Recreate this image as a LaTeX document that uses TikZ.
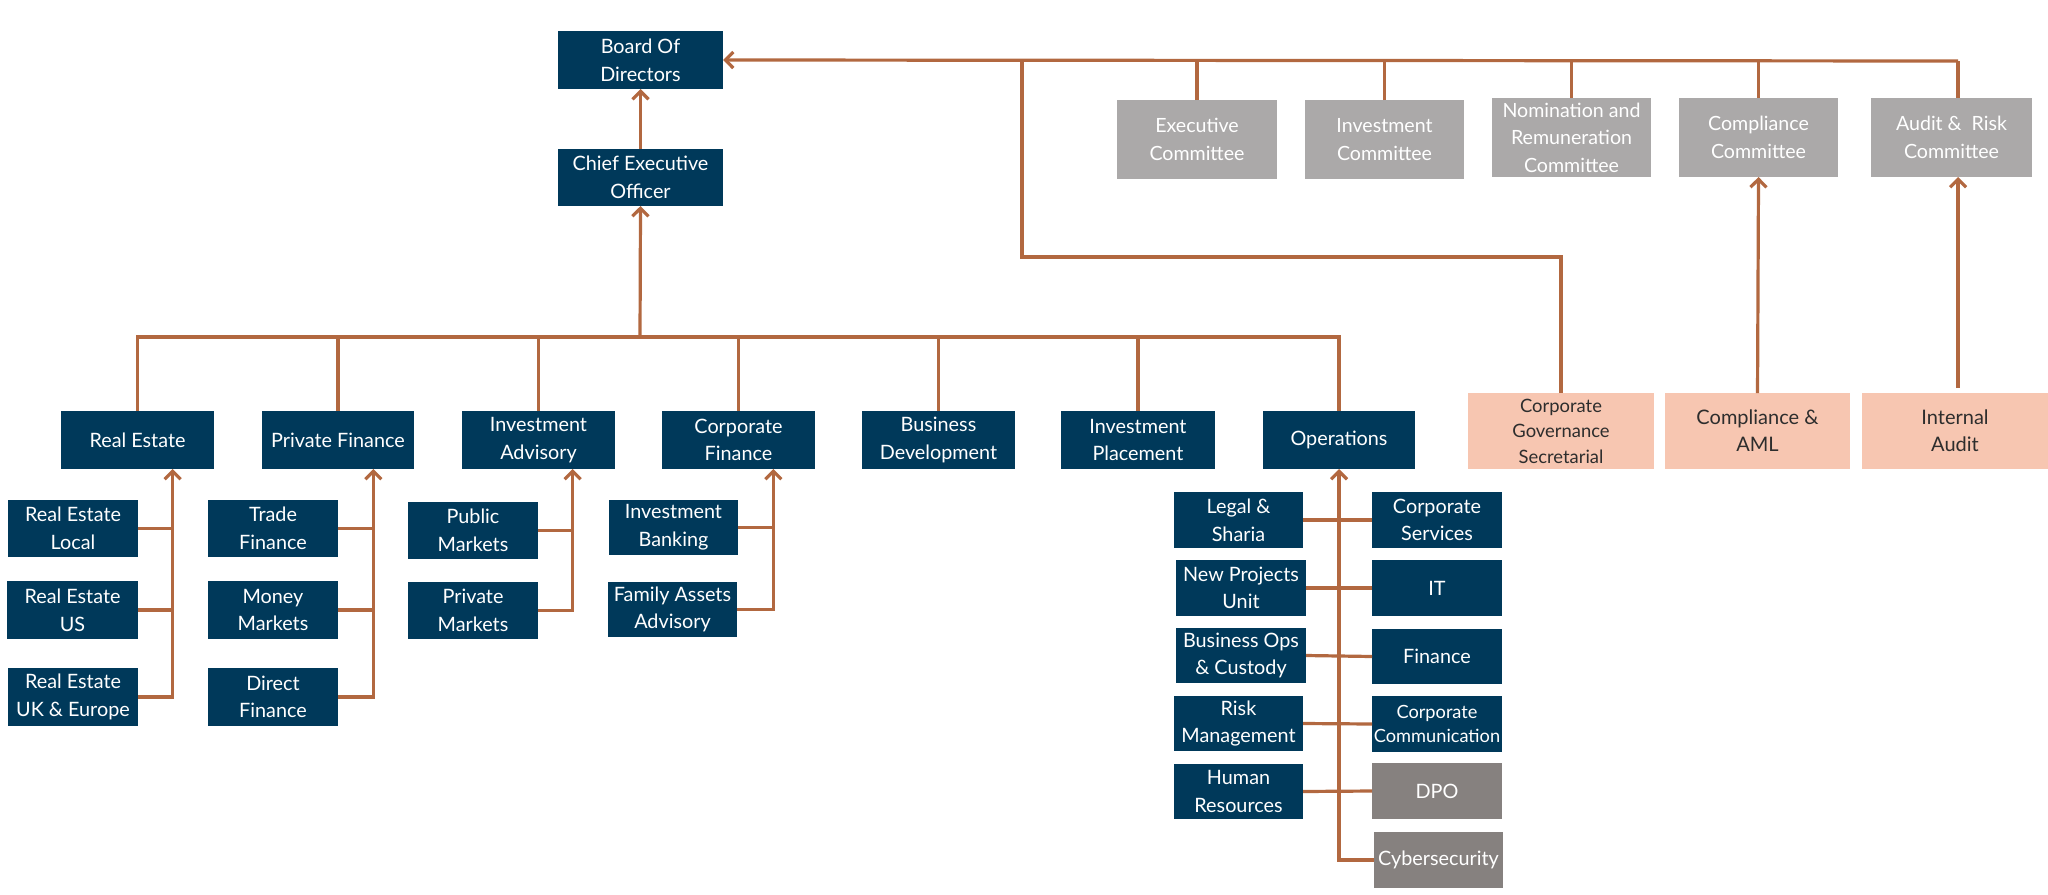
\documentclass[tikz,border=0pt]{standalone}
\usepackage{fontspec}
\setmainfont{Lato}
\usetikzlibrary{arrows.meta}
\definecolor{navy}{RGB}{0,57,90}
\definecolor{rust}{RGB}{178,104,64}
\definecolor{peach}{RGB}{247,198,177}
\definecolor{lgrey}{RGB}{171,169,169}
\definecolor{dgrey}{RGB}{134,129,127}
\definecolor{ptext}{RGB}{45,45,45}
\newcommand\bx[7]{\node[#6, minimum width={((#4)-(#2))*0.5pt}, minimum height={((#5)-(#3))*0.5pt}] (#1) at ({((#2)+(#4))/2},{((#3)+(#5))/2}) {#7};}
\tikzset{
  boxbase/.style={inner sep=0pt, outer sep=0pt, align=center},
  nb/.style={boxbase, fill=navy, text=white, font=\fontsize{9.9}{13.8}\selectfont},
  nbs/.style={nb, font=\fontsize{9.1}{12.3}\selectfont},
  cmt/.style={boxbase, fill=lgrey, text=white, font=\fontsize{9.8}{13.8}\selectfont},
  pk/.style={boxbase, fill=peach, text=ptext, font=\fontsize{10}{13.6}\selectfont},
  pks/.style={pk, font=\fontsize{9.2}{12.8}\selectfont},
  dg/.style={boxbase, fill=dgrey, text=white, font=\fontsize{9.9}{13.8}\selectfont},
  ln/.style={draw=rust, line width=1.6pt},
  arr/.style={ln, -{Straight Barb[length=4pt,width=8pt]}}
}
\begin{document}
\begin{tikzpicture}[x=0.5pt,y=-0.5pt]
\useasboundingbox (0,0) rectangle (2048,894);
% top
\bx{board}{558}{31}{723}{89}{nb}{Board Of\\Directors}
\bx{ceo}{558}{149}{723}{206}{nb}{Chief Executive\\Officer}
% committees
\bx{exec}{1117}{100}{1277}{179}{cmt}{Executive\\Committee}
\bx{invc}{1305}{100}{1464}{179}{cmt}{Investment\\Committee}
\bx{nom}{1492}{98}{1651}{177}{cmt}{Nomination and\\Remuneration\\Committee}
\bx{compc}{1679}{98}{1838}{177}{cmt}{Compliance\\Committee}
\bx{audc}{1871}{98}{2032}{177}{cmt}{Audit \&~ Risk\\Committee}
% peach
\bx{cg}{1468}{393}{1654}{469}{pks}{Corporate\\Governance\\Secretarial}
\bx{aml}{1665}{393}{1850}{469}{pk}{Compliance \&\\AML}
\bx{ia}{1862}{393}{2048}{469}{pk}{Internal\\Audit}
% level 2
\bx{re}{61}{411}{214}{469}{nb}{Real Estate}
\bx{pf}{262}{411}{414}{469}{nb}{Private Finance}
\bx{iadv}{462}{411}{615}{469}{nb}{Investment\\Advisory}
\bx{cf}{662}{411}{815}{469}{nb}{Corporate\\Finance}
\bx{bd}{862}{411}{1015}{469}{nb}{Business\\Development}
\bx{ip}{1061}{411}{1215}{469}{nb}{Investment\\Placement}
\bx{ops}{1263}{411}{1415}{469}{nb}{Operations}
% RE subs
\bx{rel}{8}{500}{138}{557}{nb}{Real Estate\\Local}
\bx{reus}{7}{581}{138}{639}{nb}{Real Estate\\US}
\bx{reuk}{8}{668}{138}{726}{nb}{Real Estate\\UK \& Europe}
% PF subs
\bx{tf}{208}{500}{338}{557}{nb}{Trade\\Finance}
\bx{mm}{208}{581}{338}{639}{nb}{Money\\Markets}
\bx{df}{208}{668}{338}{726}{nb}{Direct\\Finance}
% IA subs
\bx{pub}{408}{502}{538}{559}{nb}{Public\\Markets}
\bx{pri}{408}{582}{538}{639}{nb}{Private\\Markets}
% CF subs
\bx{ib}{609}{500}{738}{555}{nb}{Investment\\Banking}
\bx{fa}{608}{582}{737}{637}{nb}{Family Assets\\Advisory}
% Ops subs
\bx{legal}{1174}{492}{1303}{548}{nb}{Legal \&\\Sharia}
\bx{npu}{1176}{560}{1306}{616}{nb}{New Projects\\Unit}
\bx{bops}{1176}{628}{1306}{683}{nb}{Business Ops\\\& Custody}
\bx{risk}{1174}{696}{1303}{751}{nb}{Risk\\Management}
\bx{hr}{1174}{764}{1303}{819}{nb}{Human\\Resources}
\bx{cs}{1372}{492}{1502}{548}{nb}{Corporate\\Services}
\bx{it}{1372}{560}{1502}{616}{nb}{IT}
\bx{fin}{1372}{629}{1502}{684}{nb}{Finance}
\bx{ccom}{1372}{696}{1502}{752}{nbs}{Corporate\\Communication}
\bx{dpo}{1372}{763}{1502}{819}{dg}{DPO}
\bx{cyb}{1374}{832}{1503}{888}{dg}{Cybersecurity}
% coordinates
\coordinate (bj) at (1022,257);
\coordinate (ceobus) at (640,337);
\coordinate (reA) at (172.7,469);
\coordinate (pfA) at (373.3,469);
\coordinate (iaA) at (572.7,469);
\coordinate (cfA) at (773.3,469);
\coordinate (audA) at (1958,177);
\coordinate (iaS) at (1958,388);
% connectors top
\draw[arr] (ceo.north) -- (board.south);
\draw[arr] (audA |- 0,61) -- (board.east);
\draw[ln] (audA |- 0,61) -- (audc.north -| audA);
\foreach \n in {exec,invc,nom,compc} \draw[ln] (\n.north) -- (\n.north |- 0,61);
\draw[ln] (cg.north) |- (bj) -- (bj |- 0,61);
\draw[arr] (aml.north) -- (compc.south);
\draw[arr] (iaS) -- (audA);
% CEO bus
\draw[arr] (ceobus) -- (ceo.south);
\draw[ln] (re.north) |- (ops.north |- ceobus) -- (ops.north);
\foreach \n in {pf,iadv,cf,bd,ip} \draw[ln] (\n.north) -- (\n.north |- ceobus);
% RE
\draw[arr] (reuk.east) -| (reA);
\draw[ln] (rel.east) -- (rel.east -| reA);
\draw[ln] (reus.east) -- (reus.east -| reA);
% PF
\draw[arr] (df.east) -| (pfA);
\draw[ln] (tf.east) -- (tf.east -| pfA);
\draw[ln] (mm.east) -- (mm.east -| pfA);
% IA
\draw[arr] (pri.east) -| (iaA);
\draw[ln] (pub.east) -- (pub.east -| iaA);
% CF
\draw[arr] (fa.east) -| (cfA);
\draw[ln] (ib.east) -- (ib.east -| cfA);
% Ops
\draw[arr] (cyb.west) -| (ops.south);
\draw[ln] (legal.east) -- (cs.west);
\draw[ln] (npu.east) -- (it.west);
\draw[ln] (bops.east) -- (fin.west);
\draw[ln] (risk.east) -- (ccom.west);
\draw[ln] (hr.east) -- (dpo.west);
\end{tikzpicture}
\end{document}
